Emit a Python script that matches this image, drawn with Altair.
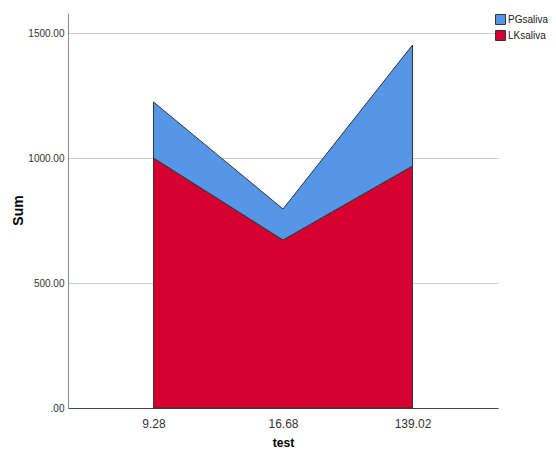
import altair as alt
import pandas as pd

tests = ["9.28", "16.68", "139.02"]
lk_values = [1000, 672, 968]
pg_values = [224, 124, 484]
series_names = ["PGsaliva", "LKsaliva"]
series_colors = ["#5597E6", "#D5002F"]

rows = []
for i, t in enumerate(tests):
    rows.append({"test": t, "series": "LKsaliva", "value": lk_values[i], "ord": 0})
    rows.append({"test": t, "series": "PGsaliva", "value": pg_values[i], "ord": 1})
df = pd.DataFrame(rows)

chart = alt.Chart(df).mark_area(stroke="#333333", strokeWidth=1, opacity=1).encode(
    x=alt.X("test:N", sort=tests, title="test",
            scale=alt.Scale(type="point", padding=0.66),
            axis=alt.Axis(labelAngle=0, ticks=False, grid=False, domainColor="#444444",
                          labelFontSize=12, labelColor="#333333", labelPadding=10,
                          titleFontSize=12, titleFontWeight="bold",
                          titleX=215, titleY=34, titleBaseline="middle",
                          titleColor="#000000")),
    y=alt.Y("value:Q", stack="zero", title="Sum",
            scale=alt.Scale(domain=[0, 1580], nice=False),
            axis=alt.Axis(values=[0, 500, 1000, 1500], ticks=False,
                          labelExpr="datum.value == 0 ? '.00' : format(datum.value, '.2f')",
                          labelFontSize=10, labelColor="#333333", labelPadding=4,
                          gridColor="#cccccc", gridWidth=1, domainColor="#888888",
                          titleFontSize=14, titleFontWeight="bold", titleColor="#000000",
                          titleX=-50, titleY=197, titleAngle=270, titleBaseline="middle",
                          titleAlign="center")),
    color=alt.Color("series:N",
                    scale=alt.Scale(domain=series_names, range=series_colors),
                    legend=alt.Legend(title=None, orient="none", legendX=427, legendY=1,
                                      symbolType="square", symbolSize=100,
                                      symbolStrokeColor="#333333", symbolStrokeWidth=1,
                                      labelFontSize=10, labelColor="#222222",
                                      rowPadding=1, labelOffset=2, padding=0)),
    order=alt.Order("ord:Q"),
).properties(
    width=430, height=395,
    autosize=alt.AutoSizeParams(type="none"),
    padding={"left": 60, "top": 5, "right": 50, "bottom": 40},
).configure(
    font="Liberation Sans",
).configure_view(stroke=None)

chart.save("out.html", embed_options={"renderer": "svg", "actions": False})
